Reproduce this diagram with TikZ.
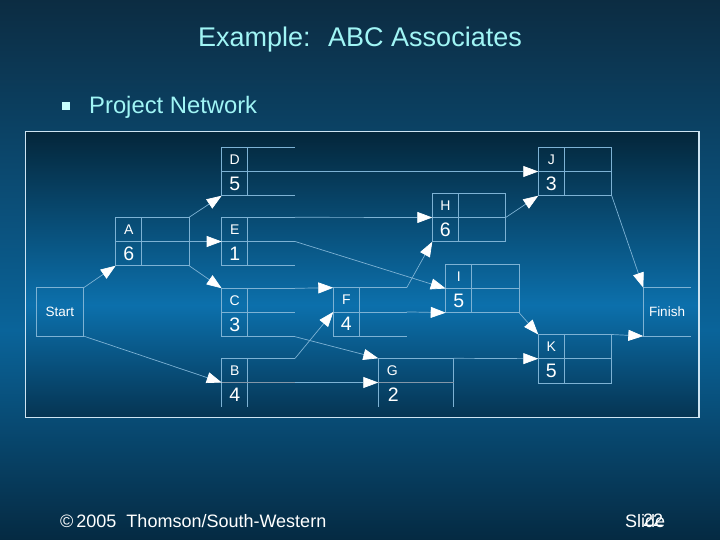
\documentclass[tikz,border=0pt]{standalone}
\usepackage{fontspec}
\setmainfont{Liberation Sans}
\usetikzlibrary{arrows.meta}
\definecolor{bgtop}{RGB}{12,44,66}
\definecolor{bgmid}{RGB}{10,100,154}
\definecolor{bgbot}{RGB}{5,42,66}
\definecolor{pntop}{RGB}{4,38,58}
\definecolor{pnmid}{RGB}{12,112,172}
\definecolor{pnbot}{RGB}{5,52,82}
\definecolor{linec}{RGB}{125,178,212}
\definecolor{titlec}{RGB}{160,245,245}
\definecolor{bulletc}{RGB}{200,255,255}
\definecolor{thickc}{RGB}{130,150,168}
\definecolor{borderc}{RGB}{205,228,242}
\newcommand{\taskbox}[4]{%
  \node[task,anchor=north west] (#1) at (#2) {};
  \draw[boxline] (#1.north east) -- (#1.north west) -- (#1.south west) -- (#1.south east);
  \draw[boxline] (#1.west) -- (#1.east);
  \draw[boxline] ([xshift=26pt]#1.north west) -- ([xshift=26pt]#1.south west);
  \node[lett] (#1-l) at ([xshift=13pt,yshift=-12pt]#1.north west) {#3};
  \node[num] (#1-n) at ([xshift=13pt,yshift=12pt]#1.south west) {#4};
}
\tikzset{
  task/.style={minimum width=73pt,minimum height=48pt,inner sep=0pt,draw=none},
  endbox/.style={minimum width=47pt,minimum height=48pt,inner sep=0pt,draw=none},
  boxline/.style={draw=linec,line width=0.7pt},
  thickline/.style={draw=thickc,line width=1.6pt},
  conn/.style={draw=linec,line width=0.7pt,-{Triangle[length=15pt,width=11pt,color=white]}},
  lett/.style={font=\fontsize{14}{14}\selectfont,text=white,inner sep=0pt},
  num/.style={font=\fontsize{19.5}{19.5}\selectfont,text=white,inner sep=0pt},
  endtext/.style={font=\fontsize{13.5}{13.5}\selectfont,text=white,inner sep=0pt},
}
\begin{document}
\begin{tikzpicture}[x=1pt,y=-1pt]
\useasboundingbox (0,0) rectangle (720,540);
% slide background
\shade[top color=bgtop,bottom color=bgmid] (0,0) rectangle (720,330.5);
\shade[top color=bgmid,bottom color=bgbot] (0,330) rectangle (720,540);
% titles
\node[anchor=base,text=titlec,font=\fontsize{27}{27}\selectfont,inner sep=0pt] (title) at (360,47) {Example:~ ABC Associates};
\node[fill=bulletc,minimum size=8pt,inner sep=0pt] (bullet) at (66,106) {};
\node[anchor=base west,text=titlec,font=\fontsize{23.8}{23.8}\selectfont,inner sep=0pt] (pn) at (89,114) {Project Network};
% panel
\shade[top color=pntop,bottom color=pnmid] (25.5,131.5) rectangle (699,305.5);
\shade[top color=pnmid,bottom color=pnbot] (25.5,305) rectangle (699,417.5);
\draw[draw=borderc,line width=1.2pt] (25.5,131.5) rectangle (699,417.5);
% start / finish
\node[endbox,anchor=north west,minimum width=47.3pt] (start) at (36,287.7) {};
\draw[boxline] (start.north west) rectangle (start.south east);
\node[endtext] (start-t) at (start.center) {Start};
\node[endbox,anchor=north west] (finish) at (643.3,287.7) {};
\draw[boxline] (finish.north east) -- (finish.north west) -- (finish.south west) -- (finish.south east);
\node[endtext] (finish-t) at (finish.center) {Finish};
% tasks
\taskbox{A}{115.7,217.3}{A}{6}
\draw[boxline] (A.north east) -- (A.south east);
\taskbox{D}{221.7,147.3}{D}{5}
\taskbox{E}{221.7,217.3}{E}{1}
\taskbox{C}{221.7,288.3}{C}{3}
\taskbox{F}{333.3,287.7}{F}{4}
\taskbox{H}{432.3,193.3}{H}{6}
\draw[boxline] (H.north east) -- (H.south east);
\taskbox{I}{445.7,264.3}{I}{5}
\draw[boxline] (I.north east) -- (I.south east);
\taskbox{J}{538.3,147.3}{J}{3}
\draw[boxline] (J.north east) -- (J.south east);
\taskbox{K}{538.3,334.5}{K}{5}
\draw[boxline] (K.north east) -- (K.south east);
% B (open bottom)
\node[task,anchor=north west] (B) at (221.7,358.3) {};
\draw[boxline] (B.north east) -- (B.north west) -- (B.south west);
\draw[boxline] ([xshift=26pt]B.north west) -- ([xshift=26pt]B.south west);
\draw[thickline] (B.west) -- (B.east);
\node[lett] (B-l) at ([xshift=13pt,yshift=-12pt]B.north west) {B};
\node[num] (B-n) at ([xshift=13pt,yshift=12pt]B.south west) {4};
% G (open bottom, no divider)
\node[task,anchor=north west,minimum width=75pt] (G) at (378.3,358.3) {};
\draw[boxline] (G.south west) -- (G.north west) -- (G.north east) -- (G.south east);
\draw[thickline] (G.west) -- (G.east);
\node[lett] (G-l) at ([xshift=14pt,yshift=-12pt]G.north west) {G};
\node[num] (G-n) at ([xshift=15pt,yshift=12pt]G.south west) {2};
% connectors
\draw[conn] (start.north east) -- (A.south west);
\draw[conn] (start.south east) -- (B.west);
\draw[conn] (A.north east) -- (D.south west);
\draw[conn] (A.east) -- (E.west);
\draw[conn] (A.south east) -- (C.north west);
\draw[conn] (D.east) -- (J.west);
\draw[conn] (E.north east) -- (H.west);
\draw[conn] (E.east) -- (I.west);
\draw[conn] (C.north east) -- (F.north west);
\draw[conn] (C.south east) -- (G.north west);
\draw[conn] (B.north east) -- (F.west);
\draw[conn] (B.east) -- (G.west);
\draw[conn] (F.north east) -- (H.south west);
\draw[conn] (F.east) -- (I.south west);
\draw[conn] (H.east) -- (J.south west);
\draw[conn] (I.south east) -- (K.north west);
\draw[conn] (G.north east) -- (K.west);
\draw[conn] (J.south east) -- (finish.north west);
\draw[conn] (K.north east) -- (finish.south west);
% footer
\node[anchor=base west,text=white,font=\fontsize{18}{18}\selectfont,inner sep=0pt] (copy) at (60,527) {©\,2005\ \ Thomson/South-Western};
\node[anchor=base west,text=white,font=\fontsize{18}{18}\selectfont,inner sep=0pt] (slide) at (625,527) {Slide};
\node[anchor=base west,text=white,font=\fontsize{18}{18}\selectfont,inner sep=0pt] (slidenum) at (643,526) {22};
\end{tikzpicture}
\end{document}
